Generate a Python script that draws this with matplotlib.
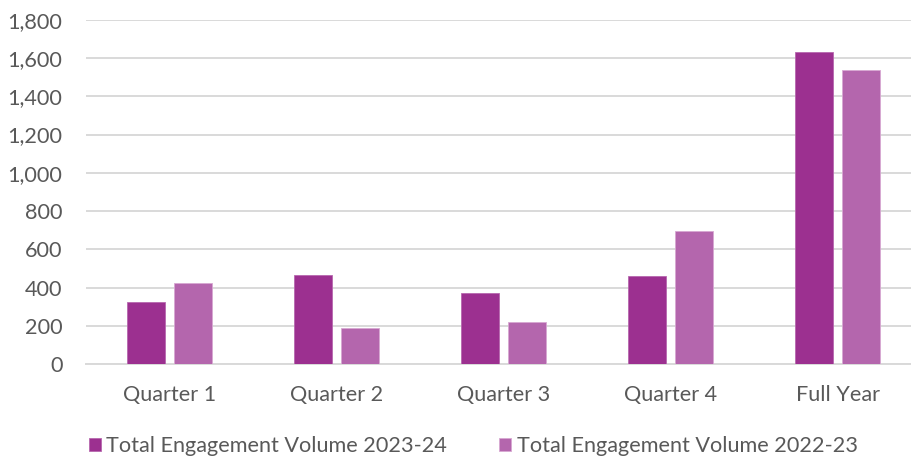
import matplotlib
matplotlib.use('Agg')
import matplotlib.pyplot as plt
from matplotlib.ticker import FuncFormatter
import numpy as np

categories = ['Quarter 1', 'Quarter 2', 'Quarter 3', 'Quarter 4', 'Full Year']
vol_2324 = [324, 465, 370, 460, 1630]
vol_2223 = [425, 188, 220, 696, 1536]
series_names = ['Total Engagement Volume 2023-24', 'Total Engagement Volume 2022-23']

dark = '#9C3090'
light = '#B466AD'
grey = '#595959'
fs = 15.6

plt.rcParams['font.family'] = ['Lato', 'DejaVu Sans']

fig = plt.figure(figsize=(9.12, 4.63), dpi=100)
ax = fig.add_axes([86/912, 1 - 364/463, 835/912, 344.2/463])

x = np.arange(len(categories))
w = 0.228
off = 0.141
ax.bar(x - off, vol_2324, w, color=dark, edgecolor='#B768AE', linewidth=0.6,
       label=series_names[0], zorder=3)
ax.bar(x + off, vol_2223, w, color=light, edgecolor='#D7A8D2', linewidth=0.6,
       label=series_names[1], zorder=3)

ax.set_xlim(-0.5, len(categories) - 0.5)
ax.set_ylim(0, 1800)
ax.set_yticks(np.arange(0, 1801, 200))
ax.yaxis.set_major_formatter(FuncFormatter(lambda v, p: f'{int(v):,}'))
ax.set_xticks(x)
ax.set_xticklabels(categories)
ax.grid(axis='y', color='#D9D9D9', linewidth=1.4, zorder=0)
for s in ['top', 'right', 'left']:
    ax.spines[s].set_visible(False)
ax.spines['bottom'].set_color('#D9D9D9')
ax.spines['bottom'].set_linewidth(1.4)
ax.tick_params(axis='both', length=0, labelsize=fs, colors=grey)
ax.tick_params(axis='x', pad=15)
ax.tick_params(axis='y', pad=17)

fig.legend(loc='center left', bbox_to_anchor=(89/912, 1 - 446/463), ncol=2,
           frameon=False, fontsize=fs, handlelength=0.55, handleheight=0.55,
           handletextpad=0.25, columnspacing=2.4, borderpad=0, borderaxespad=0,
           labelcolor=grey)

fig.savefig('out.png', dpi=100)
